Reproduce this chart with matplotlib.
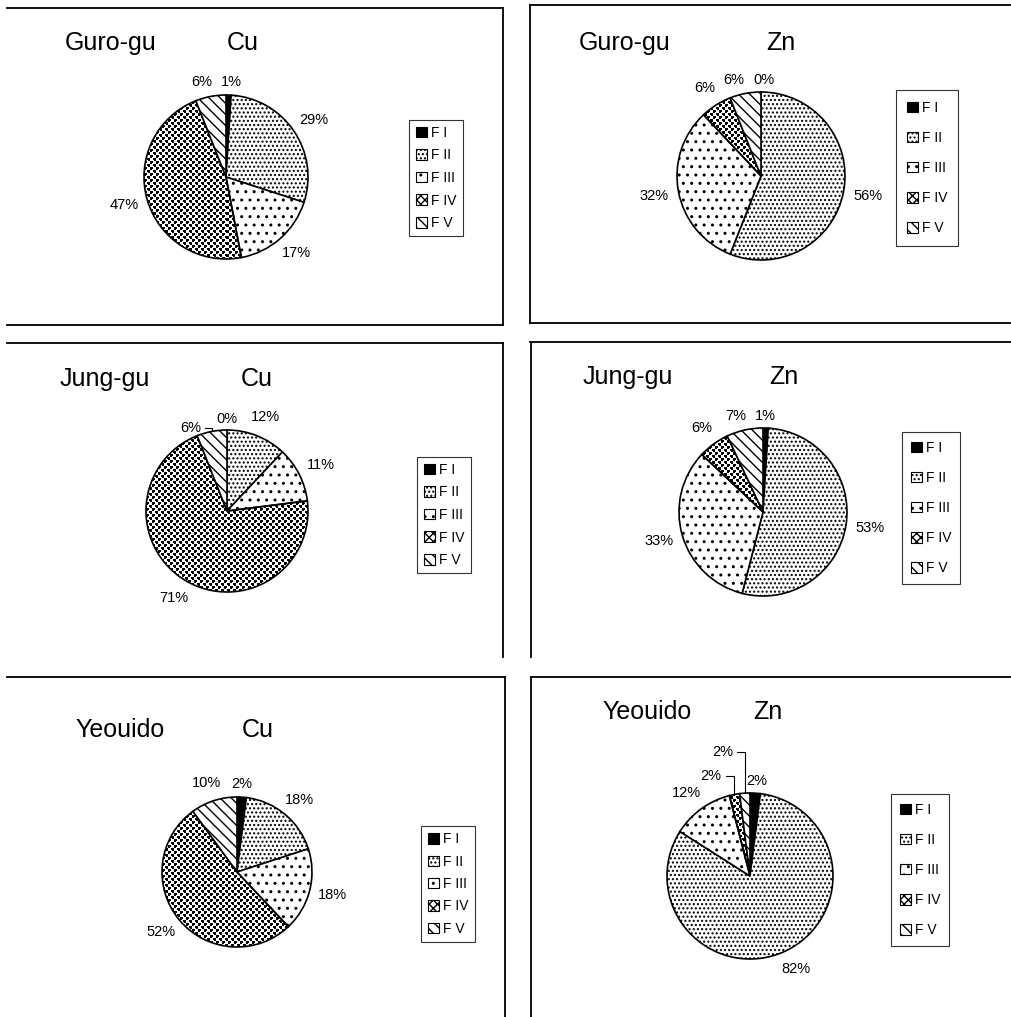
import numpy as np
import matplotlib.pyplot as plt
from matplotlib.patches import Patch
from matplotlib.lines import Line2D

plt.rcParams['font.family'] = ['Liberation Sans', 'DejaVu Sans']
plt.rcParams['hatch.linewidth'] = 1.0

fractions = ['F I', 'F II', 'F III', 'F IV', 'F V']

# percentage of each fraction, clockwise from 12 o'clock
guro_cu = [1, 29, 17, 47, 6]
guro_zn = [0, 56, 32, 6, 6]
jung_cu = [0, 12, 11, 71, 6]
jung_zn = [1, 53, 33, 6, 7]
yeouido_cu = [2, 18, 18, 52, 10]
yeouido_zn = [2, 82, 12, 2, 2]

W, H = 1012, 1017
fig = plt.figure(figsize=(W / 100, H / 100), dpi=100)
fig.patch.set_facecolor('white')


def fx(px):
    return px / W


def fy(py):
    return 1 - py / H


# panel layout in pixels: site, metal, values, pie centre, radius,
# title x (site), title x (metal), title y, legend centre, legend row spacing, pad
panels = [
    ('Guro-gu', 'Cu', guro_cu, (226, 177), 82, 65, 227, 43, (436, 178), 0.62, 0.45),
    ('Guro-gu', 'Zn', guro_zn, (761, 176), 84, 579, 766, 43, (927, 168), 1.16, 0.75),
    ('Jung-gu', 'Cu', jung_cu, (227, 511), 81, 60, 241, 379, (444, 515), 0.62, 0.45),
    ('Jung-gu', 'Zn', jung_zn, (763, 512), 84, 583, 769, 377, (931, 508), 1.16, 0.65),
    ('Yeouido', 'Cu', yeouido_cu, (237, 872), 75, 75, 242, 730, (448, 884), 0.6, 0.45),
    ('Yeouido', 'Zn', yeouido_zn, (750, 876), 83, 602, 753, 712, (920, 870), 1.16, 0.65),
]

# labels that sit away from the default spot: (x, y, leader line) in pie radii
label_moves = {
    ('Guro-gu', 'Cu', 0): (0.07, 1.16, False),
    ('Guro-gu', 'Cu', 4): (-0.29, 1.16, False),
    ('Jung-gu', 'Cu', 0): (0.0, 1.14, False),
    ('Jung-gu', 'Cu', 4): (-0.45, 1.03, True),
    ('Jung-gu', 'Zn', 0): (0.03, 1.14, False),
    ('Jung-gu', 'Zn', 4): (-0.33, 1.14, False),
    ('Guro-gu', 'Zn', 4): (-0.32, 1.14, False),
    ('Guro-gu', 'Zn', 0): (0.03, 1.14, False),
    ('Yeouido', 'Zn', 0): (0.08, 1.14, False),
    ('Yeouido', 'Zn', 3): (-0.47, 1.2, True),
    ('Yeouido', 'Zn', 4): (-0.33, 1.49, True),
    ('Yeouido', 'Cu', 0): (0.07, 1.17, False),
}

faces = ['black', 'white', 'white', 'none', 'white']
hatches = ['', '....', '..', '', '\\\\\\']

# tile used for the F IV texture (1 = black pixel)
tile = np.array([
    [1, 1, 1, 0, 0, 0],
    [1, 1, 1, 0, 0, 0],
    [1, 1, 0, 0, 0, 0],
    [0, 0, 0, 1, 1, 1],
    [0, 0, 0, 1, 1, 1],
    [0, 0, 0, 0, 1, 1],
])

for site, metal, vals, (cx, cy), r, tx1, tx2, ty, (lx, ly), lsp, bpad in panels:
    half = 1.6 * r
    ax = fig.add_axes([fx(cx - half), fy(cy + half), 2 * half / W, 2 * half / H])
    wedges, _ = ax.pie(vals, startangle=90, counterclock=False, radius=1,
                       wedgeprops=dict(edgecolor='black', linewidth=1.2))
    for i, w in enumerate(wedges):
        w.set_facecolor(faces[i])
        w.set_hatch(hatches[i])
        w.set_zorder(2)

    n = int(2 * r)
    reps = n // tile.shape[0] + 1
    tex = np.tile(tile, (reps, reps))[:n, :n]
    im = ax.imshow(tex, cmap='gray_r', vmin=0, vmax=1, extent=(-1, 1, -1, 1),
                   interpolation='nearest', zorder=1)
    im.set_clip_path(wedges[3])

    for i, w in enumerate(wedges):
        mid = np.deg2rad((w.theta1 + w.theta2) / 2)
        c, s = np.cos(mid), np.sin(mid)
        txt = f'{vals[i]}%'
        key = (site, metal, i)
        if key in label_moves:
            x, y, leader = label_moves[key]
        else:
            wid = len(txt) * 8.0 / r
            hgt = 15.0 / r
            x = 1.15 * c + c * wid / 2
            y = 1.15 * s + s * hgt / 2
            leader = False
        if leader:
            ax.annotate(txt, xy=(c * 1.0, s * 1.0), xytext=(x, y),
                        ha='center', va='center', fontsize=10.5,
                        arrowprops=dict(arrowstyle='-', lw=0.8, color='black',
                                        connectionstyle='angle,angleA=0,angleB=90,rad=0',
                                        shrinkA=1, shrinkB=0))
        else:
            ax.text(x, y, txt, ha='center', va='center', fontsize=10.5)

    ax.set_xlim(-1.6, 1.6)
    ax.set_ylim(-1.6, 1.6)
    ax.set_axis_off()

    fig.text(fx(tx1), fy(ty), site, ha='left', va='center', fontsize=18)
    fig.text(fx(tx2), fy(ty), metal, ha='left', va='center', fontsize=18)

    handles = [Patch(facecolor=faces[i] if faces[i] != 'none' else 'white',
                     hatch=hatches[i] if i != 3 else 'XXXX',
                     edgecolor='black', linewidth=0.8) for i in range(5)]
    leg = fig.legend(handles, fractions, loc='center',
                     bbox_to_anchor=(fx(lx), fy(ly)), fontsize=10,
                     frameon=True, fancybox=False, edgecolor='black',
                     labelspacing=lsp, handlelength=0.8, handleheight=0.8,
                     handletextpad=0.3, borderpad=bpad, borderaxespad=0)
    leg.get_frame().set_linewidth(0.8)

# panel borders (only the edges visible in the scan)
borders = [
    ((7, 8), (503, 8)), ((503, 8), (503, 325)), ((7, 325), (503, 325)),
    ((530, 5), (1012, 5)), ((530, 5), (530, 323)), ((530, 323), (1012, 323)),
    ((7, 343), (503, 343)), ((503, 343), (503, 657)),
    ((530, 342), (1012, 342)), ((531, 342), (531, 657)),
    ((7, 677), (505, 677)), ((505, 677), (505, 1017)),
    ((531, 677), (1012, 677)), ((531, 677), (531, 1017)),
]
for (x0, y0), (x1, y1) in borders:
    fig.add_artist(Line2D([fx(x0), fx(x1)], [fy(y0), fy(y1)],
                          transform=fig.transFigure, color='black', lw=1.3))

fig.savefig('out.png', dpi=100, facecolor='white')
